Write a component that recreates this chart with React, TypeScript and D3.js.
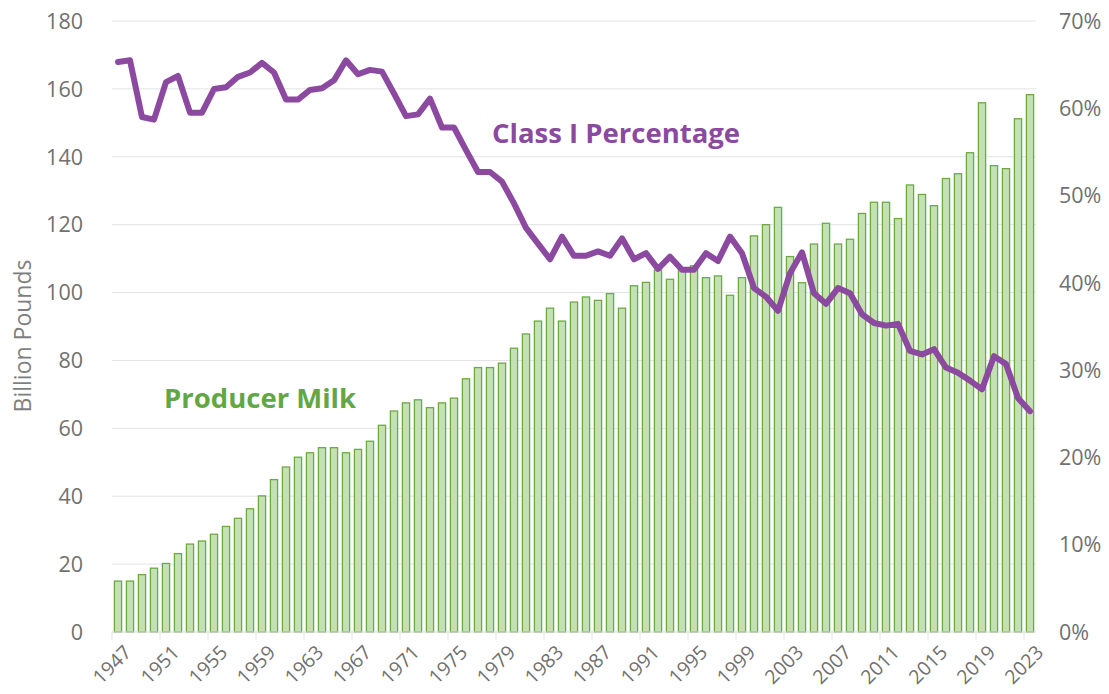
import React from 'react';
import * as d3 from 'd3';

// Federal order producer milk (billion lbs) and Class I utilization (%)
const years: number[] = d3.range(1947, 2024);

const producerMilk: number[] = [
  15.0, 15.0, 16.9, 18.8, 20.2, 23.1, 25.9, 26.8, 28.8, 31.1,
  33.5, 36.3, 40.1, 44.9, 48.6, 51.5, 52.8, 54.3, 54.3, 52.8,
  53.8, 56.2, 60.9, 65.1, 67.5, 68.4, 66.1, 67.5, 68.9, 74.6,
  77.9, 77.9, 79.2, 83.6, 87.8, 91.6, 95.4, 91.6, 97.2, 98.7,
  97.7, 99.7, 95.4, 102.0, 103.0, 106.6, 103.9, 107.0, 107.9, 104.4,
  104.9, 99.2, 104.4, 116.7, 120.0, 125.1, 110.6, 102.9, 114.3, 120.4,
  114.3, 115.7, 123.3, 126.6, 126.6, 121.8, 131.7, 128.9, 125.6, 133.6,
  135.0, 141.2, 155.9, 137.4, 136.5, 151.2, 158.3,
];

const classIPct: number[] = [
  65.3, 65.5, 59.0, 58.7, 63.0, 63.7, 59.5, 59.5, 62.2, 62.4,
  63.6, 64.1, 65.2, 64.1, 61.0, 61.0, 62.1, 62.3, 63.2, 65.5,
  63.9, 64.4, 64.2, 61.7, 59.1, 59.3, 61.1, 57.8, 57.8, 55.2,
  52.7, 52.7, 51.6, 49.1, 46.3, 44.5, 42.7, 45.3, 43.1, 43.1,
  43.6, 43.1, 45.1, 42.7, 43.4, 41.6, 43.0, 41.5, 41.5, 43.4,
  42.5, 45.3, 43.4, 39.4, 38.4, 36.8, 41.1, 43.5, 38.8, 37.6,
  39.4, 38.8, 36.4, 35.4, 35.1, 35.3, 32.2, 31.8, 32.4, 30.3,
  29.7, 28.8, 27.8, 31.6, 30.7, 26.8, 25.3,
];

const leftTicks: number[] = [0, 20, 40, 60, 80, 100, 120, 140, 160, 180];
const rightTicks: number[] = [0, 10, 20, 30, 40, 50, 60, 70];

const W = 1109;
const H = 694;
const margin = { top: 21, right: 73, bottom: 62, left: 112 };
const font = "'Open Sans', 'DejaVu Sans', sans-serif";
const tickColor = "#707070";

const App: React.FC = () => {
  const x = d3.scaleBand<number>()
    .domain(years)
    .range([margin.left, W - margin.right])
    .paddingInner(0.3)
    .paddingOuter(0.15);

  const y = d3.scaleLinear().domain([0, 180]).range([H - margin.bottom, margin.top]);
  const y2 = d3.scaleLinear().domain([0, 70]).range([H - margin.bottom, margin.top]);

  const cx = (yr: number) => (x(yr) || 0) + x.bandwidth() / 2;

  const line = d3.line<number>()
    .x((_, i) => cx(years[i]))
    .y(d => y2(d))
    .curve(d3.curveLinear);

  const step = x.step();
  const base = y(0);

  return (
    <svg width={W} height={H} style={{ position: 'absolute', left: 0, top: 0, background: '#fff' }}>
      {/* gridlines */}
      {leftTicks.filter(t => t > 0).map(t => (
        <line key={t} x1={margin.left} x2={W - margin.right} y1={y(t)} y2={y(t)} stroke="#e3e3e3" strokeWidth={1} />
      ))}

      {/* bars */}
      {producerMilk.map((v, i) => (
        <rect
          key={years[i]}
          x={(x(years[i]) || 0) + 0.6}
          y={y(v)}
          width={x.bandwidth() - 1.2}
          height={base - y(v)}
          fill="#c5e0b3"
          stroke="#6aab46"
          strokeWidth={1.3}
        />
      ))}

      {/* baseline + ticks */}
      <line x1={margin.left} x2={W - margin.right} y1={base} y2={base} stroke="#d9d9d9" strokeWidth={1} />
      {years.filter((_, i) => i % 4 === 0).map((yr) => (
        <line key={yr} x1={(x(yr) || 0) - (step - x.bandwidth()) / 2} x2={(x(yr) || 0) - (step - x.bandwidth()) / 2}
          y1={base} y2={base + 8} stroke="#e3e3e3" strokeWidth={1} />
      ))}

      {/* line */}
      <path d={line(classIPct) || ''} fill="none" stroke="#8b4aa0" strokeWidth={6} strokeLinejoin="round" strokeLinecap="round" />

      {/* left axis labels */}
      {leftTicks.map(t => (
        <text key={t} x={83} y={y(t)} dy="0.36em" textAnchor="end" fontFamily={font} fontSize={21.5} fill={tickColor}>{t}</text>
      ))}
      {/* right axis labels */}
      {rightTicks.map(t => (
        <text key={t} x={1059} y={y2(t)} dy="0.36em" textAnchor="start" fontFamily={font} fontSize={21.5} fill={tickColor}>{t}%</text>
      ))}

      {/* x labels */}
      {years.filter((_, i) => i % 4 === 0).map(yr => (
        <text key={yr} transform={`translate(${cx(yr) + 5},${base + 12}) rotate(-45)`} textAnchor="end" dy="0.7em"
          fontFamily={font} fontSize={19.5} fill={tickColor}>{yr}</text>
      ))}

      {/* y axis title */}
      <text transform={`translate(31,336) rotate(-90)`} textAnchor="middle" fontFamily={font} fontSize={23} fill="#7f7f7f">Billion Pounds</text>

      {/* series labels */}
      <text x={492} y={143} fontFamily={font} fontSize={27.5} fontWeight={700} fill="#8b4aa0">Class I Percentage</text>
      <text x={164} y={408} fontFamily={font} fontSize={27.5} fontWeight={700} fill="#62a744">Producer Milk</text>
    </svg>
  );
};

export default App;
